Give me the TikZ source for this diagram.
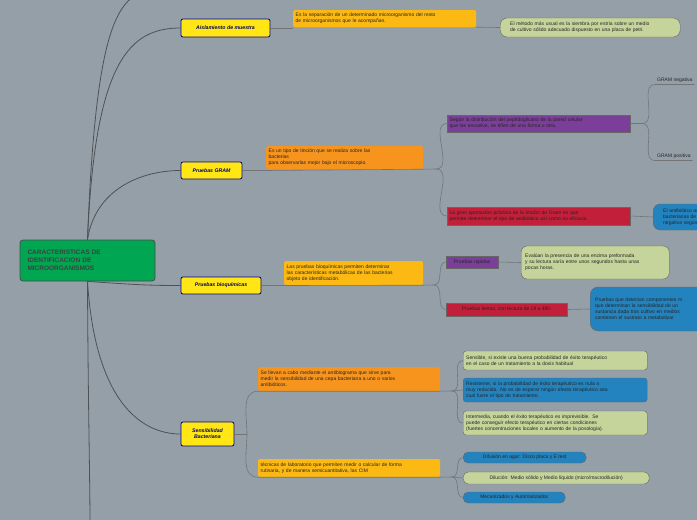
\documentclass[tikz,border=0pt]{standalone}
\usepackage{fontspec}
\setmainfont{Liberation Sans}
\definecolor{bg}{HTML}{959FA8}
\definecolor{mgreen}{HTML}{00A651}
\definecolor{yel}{HTML}{FFE614}
\definecolor{ambar}{HTML}{FDB913}
\definecolor{naranja}{HTML}{F7941D}
\definecolor{lima}{HTML}{C5D49A}
\definecolor{morado}{HTML}{7B3F9A}
\definecolor{rojo}{HTML}{C2203A}
\definecolor{azul}{HTML}{2383BF}
\definecolor{linea}{HTML}{4D5256}
\tikzset{
  topic/.style={draw=blue!50!black, thick, fill=yel, rounded corners=2pt, font=\fontsize{5.2}{6.2}\selectfont\bfseries\itshape, text=blue!40!black, align=center, inner sep=2pt},
  note/.style={rounded corners=1.5pt, font=\fontsize{5}{6}\selectfont, text=black!85, align=left, inner sep=2pt, anchor=west},
  bar/.style={note, draw=black!60, rounded corners=0pt},
  pill/.style={note, draw=black!60, rounded corners=7pt},
  link/.style={draw=linea, thick},
  sublink/.style={draw=linea!80, semithick}
}
\begin{document}
\begin{tikzpicture}[x=1pt, y=-1pt]
\fill[bg] (0,0) rectangle (697,520);
\clip (0,0) rectangle (697,520);
% main topic
\node[draw=black!70, thick, fill=mgreen, rounded corners=3pt, minimum width=135pt, minimum height=41pt, text width=120pt,
  font=\fontsize{6.5}{8}\selectfont\bfseries, text=black!75, align=left] (main) at (87.5,260.5)
  {CARACTERISTICAS DE\\IDENTIFICACION DE\\MICROORGANISMOS};
% topics
\node[topic, minimum width=89pt, minimum height=18pt] (ais) at (225.5,28) {Aislamiento de muestra};
\node[topic, minimum width=61pt, minimum height=17pt] (gram) at (211.5,170.5) {Pruebas GRAM};
\node[topic, minimum width=80pt, minimum height=17pt] (bio) at (221,285.5) {Pruebas bioquímicas};
\node[topic, minimum width=53pt, minimum height=24pt] (sen) at (207.5,434) {Sensibilidad\\Bacteriana};
\draw[link] (main.north) .. controls (95,40) and (115,10) .. (135,-5);
\draw[link] (main.south) .. controls (88,400) and (90,480) .. (90,525);
\draw[link] (main.north) .. controls (95,60) and (130,28) .. (ais.west);
\draw[link] (main.north) .. controls (95,190) and (140,170.5) .. (gram.west);
\draw[link] (main.south) .. controls (140,285) and (150,285.5) .. (bio.west);
\draw[link] (main.south) .. controls (95,400) and (140,434) .. (sen.west);
% aislamiento
\node[note, fill=ambar, minimum width=183pt, minimum height=17pt, text width=178pt] (aisd) at (293,18.5)
  {Es la separación de un determinado microorganismo del resto\\de microorganismos que le acompañan.};
\node[pill, fill=lima, minimum width=180pt, minimum height=19pt, text width=160pt, inner xsep=10pt] (aise) at (500,27.5)
  {El método más usual es la siembra por estría sobre un medio\\de cultivo sólido adecuado dispuesto en una placa de petri.};
\draw[sublink] (ais.east) -- (aisd.west |- ais.east);
\draw[sublink] (aisd.south east) -- (aise.west);
% gram
\node[note, fill=naranja, minimum width=157pt, minimum height=23pt, text width=152pt] (gramd) at (266,157.5)
  {Es un tipo de tinción que se realiza sobre las\\bacterias\\para observarlas mejor bajo el microscopio.};
\node[bar, fill=morado, minimum width=183pt, minimum height=17pt, text width=178pt] (pared) at (447,123.5)
  {Según la distribución del peptidoglicano de la pared celular\\que las envuelve, se tiñen de una forma u otra.};
\node[bar, fill=rojo, minimum width=183pt, minimum height=18pt, text width=178pt] (aporte) at (447,216)
  {La gran aportación práctica de la tinción de Gram es que\\permite determinar el tipo de antibiótico así como su eficacia.};
\node[pill, fill=azul, minimum width=90pt, minimum height=26pt, text width=70pt, inner xsep=10pt] (antib) at (653,217)
  {El antibiótico actúa\\bacterianas de las\\negativa según su};
\node[note, font=\fontsize{5}{6}\selectfont] (neg) at (655,80) {GRAM negativa};
\node[note, font=\fontsize{5}{6}\selectfont] (pos) at (655,156) {GRAM positiva};
\draw[sublink] (gram.east) -- (gramd.south west |- gram.east) -- (gramd.south east) -- (436,169);
\draw[sublink] (436,169) to[out=0,in=180] (pared.west);
\draw[sublink] (436,169) to[out=0,in=180] (aporte.west);
\draw[sublink] (pared.east) -- (642,123.5) to[out=0,in=180] (neg.south west) -- (neg.south east);
\draw[sublink] (642,123.5) to[out=0,in=180] (pos.south west) -- (pos.south east);
\draw[sublink] (aporte.east) -- (antib.west);
% bioquimicas
\node[note, fill=ambar, minimum width=139pt, minimum height=24pt, text width=134pt] (biod) at (284,273)
  {Las pruebas bioquímicas permiten determinar\\las características metabólicas de las bacterias\\objeto de identificación.};
\node[bar, fill=morado, minimum width=52pt, minimum height=12pt] (rap) at (446,262) {Pruebas rapidas};
\node[bar, fill=rojo, minimum width=121pt, minimum height=13pt] (lent) at (446,309.5) {Pruebas lentas, con lectura de 18 a 48h:};
\node[note, draw=black!60, fill=lima, minimum width=148pt, minimum height=33pt, text width=140pt,
  rounded corners=6pt] (eval) at (521,262.5)
  {Evalúan la presencia de una enzima preformada\\y su lectura varía entre unos segundos hasta unas\\pocas horas.};
\node[note, draw=black!60, fill=azul, minimum width=130pt, minimum height=44pt, text width=120pt,
  rounded corners=8pt] (comp) at (590,309)
  {Pruebas que detectan componentes m\\que determinan la sensibilidad de un\\sustancia dada tras cultivo en medios\\contienen el sustrato a metabolizar};
\draw[sublink] (bio.east) -- (biod.south west |- bio.east) -- (biod.south east) -- (434,285);
\draw[sublink] (434,285) to[out=0,in=180] (rap.west);
\draw[sublink] (434,285) to[out=0,in=180] (lent.west);
\draw[sublink] (rap.east) -- (eval.west);
\draw[sublink] (lent.east) -- (comp.west);
% sensibilidad
\node[note, fill=naranja, minimum width=182pt, minimum height=24pt, text width=177pt] (antibio) at (258,379)
  {Se llevan a cabo mediante el antibiograma que sirve para\\medir la sensibilidad de una cepa bacteriana a uno o varios\\antibióticos.};
\node[note, fill=ambar, minimum width=182pt, minimum height=18pt, text width=177pt] (cim) at (258,468)
  {técnicas de laboratorio que permiten medir o calcular de forma\\rutinaria, y de manera semicuantitativa, las CIM};
\node[pill, fill=lima, minimum width=184pt, minimum height=19pt, text width=178pt, rounded corners=3pt] (sens) at (463,360.5)
  {Sensible, si existe una buena probabilidad de éxito terapéutico\\en el caso de un tratamiento a la dosis habitual};
\node[pill, fill=azul, minimum width=184pt, minimum height=24pt, text width=178pt, rounded corners=3pt] (resi) at (463,390)
  {Resistente, si la probabilidad de éxito terapéutico es nula o\\muy reducida. No es de esperar ningún efecto terapéutico sea\\cual fuere el tipo de tratamiento.};
\node[pill, fill=lima, minimum width=184pt, minimum height=24pt, text width=178pt, rounded corners=3pt] (inter) at (463,423)
  {Intermedia, cuando el éxito terapéutico es imprevisible. Se\\puede conseguir efecto terapéutico en ciertas condiciones\\(fuertes concentraciones locales o aumento de la posología).};
\node[pill, fill=azul, minimum width=123pt, minimum height=11pt, rounded corners=5pt, inner xsep=9pt] (difu) at (463,457.5)
  {Difusión en agar: Disco placa y E test};
\node[pill, fill=lima, minimum width=186pt, minimum height=12pt, rounded corners=5pt, inner xsep=9pt] (dilu) at (463,478)
  {Dilución: Medio sólido y Medio líquido (micro/macrodilución)};
\node[pill, fill=azul, minimum width=102pt, minimum height=11pt, rounded corners=5pt, inner xsep=9pt] (meca) at (463,497.5)
  {Mecanizados y Automatizados};
\draw[sublink] (sen.east) -- (247,434);
\draw[sublink] (247,434) to[out=90,in=180] (antibio.south west) -- (antibio.south east) -- (452,391);
\draw[sublink] (247,434) to[out=-90,in=180] (cim.south west) -- (cim.south east) -- (452,477);
\draw[sublink] (452,391) to[out=0,in=180] (sens.west);
\draw[sublink] (452,391) to[out=0,in=180] (resi.west);
\draw[sublink] (452,391) to[out=0,in=180] (inter.west);
\draw[sublink] (452,477) to[out=0,in=180] (difu.west);
\draw[sublink] (452,477) to[out=0,in=180] (dilu.west);
\draw[sublink] (452,477) to[out=0,in=180] (meca.west);
\end{tikzpicture}
\end{document}
